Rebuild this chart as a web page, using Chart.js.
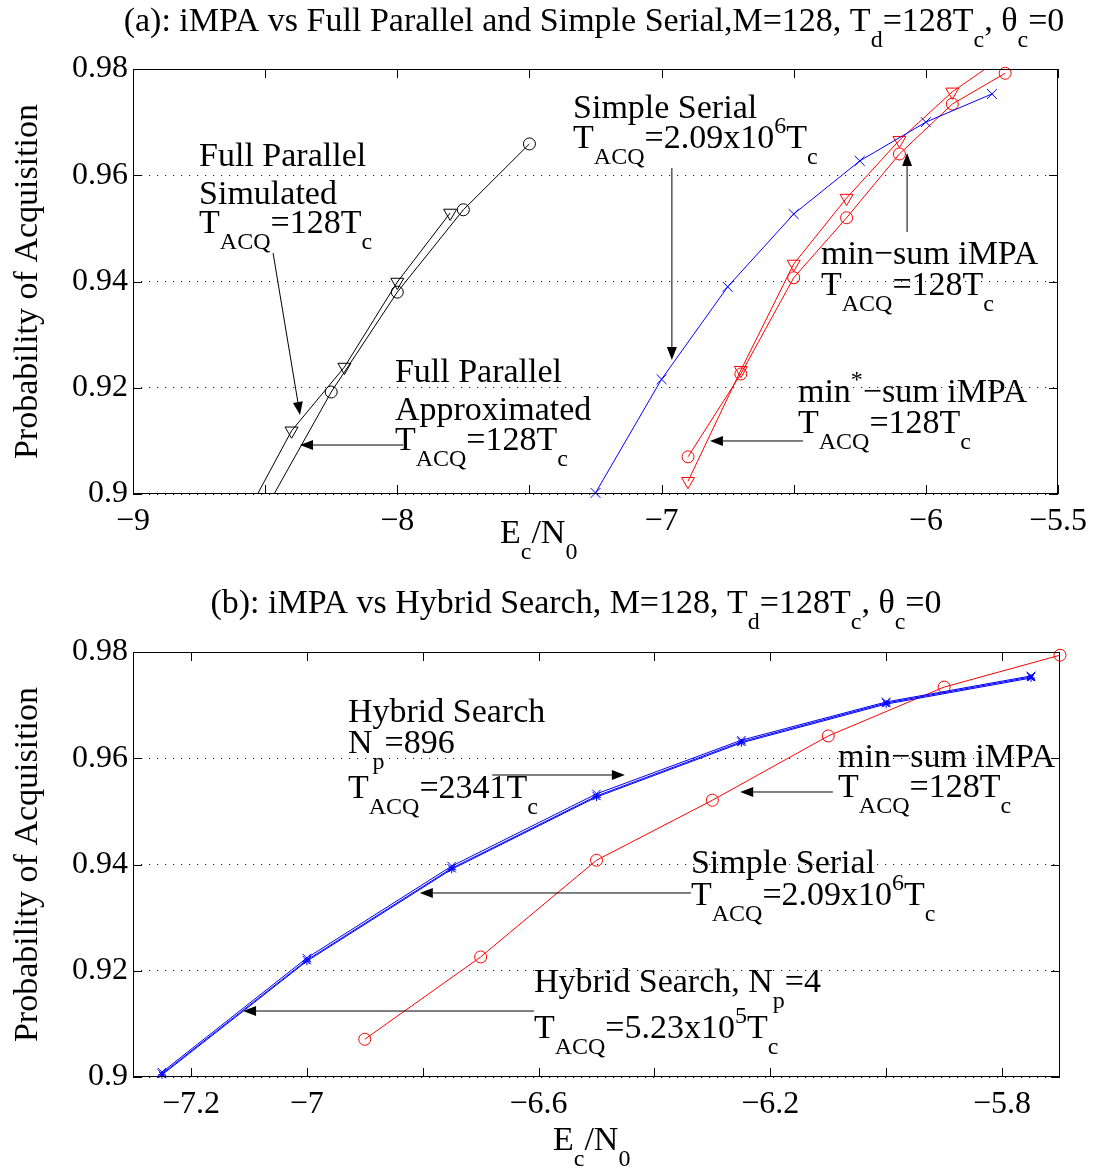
<!DOCTYPE html>
<html>
<head>
<meta charset="UTF-8">
<title>iMPA acquisition probability</title>
<script src="https://cdn.jsdelivr.net/npm/chart.js"></script>
<style>
  body { margin: 0; background: #fff; }
  canvas { display: block; }
</style>
</head>
<body>
<canvas id="chartA" width="1096" height="585"></canvas>
<canvas id="chartB" width="1096" height="586"></canvas>
<script>
// ---- (a) data ----
const fpApproxX = [-8.5, -8.25, -8.0, -7.75, -7.5];
const fpApproxY = [0.8970, 0.9192, 0.9380, 0.9535, 0.9659];
const fpSimX = [-8.6, -8.4, -8.2, -8.0, -7.8];
const fpSimY = [0.8934, 0.9119, 0.9239, 0.9399, 0.9529];
const serialX = [-7.25, -7.0, -6.75, -6.5, -6.25, -6.0, -5.75];
const serialY = [0.9002, 0.9216, 0.9390, 0.9527, 0.9627, 0.9700, 0.9753];
const minSumX = [-6.9, -6.7, -6.5, -6.3, -6.1, -5.9, -5.7];
const minSumY = [0.9070, 0.9226, 0.9407, 0.9520, 0.9640, 0.9734, 0.9792];
const minStarX = [-6.9, -6.7, -6.5, -6.3, -6.1, -5.9, -5.7];
const minStarY = [0.9024, 0.9233, 0.9433, 0.9557, 0.9666, 0.9757, 0.9826];

// ---- (b) data ----
const bSerialX = [-7.25, -7.0, -6.75, -6.5, -6.25, -6.0, -5.75];
const bSerialY = [0.9006, 0.9220, 0.9393, 0.9529, 0.9631, 0.9704, 0.9753];
const bHyb896Y = [0.9009, 0.9224, 0.9397, 0.9533, 0.9634, 0.9706, 0.9755];
const bHyb4Y = [0.9004, 0.9218, 0.9391, 0.9527, 0.9629, 0.9702, 0.9751];
const bMinSumX = [-6.9, -6.7, -6.5, -6.3, -6.1, -5.9, -5.7];
const bMinSumY = [0.9071, 0.9226, 0.9408, 0.9521, 0.9642, 0.9734, 0.9794];

// ---- ticks ----
const xTicksA = [-9, -8.5, -8, -7.5, -7, -6.5, -6, -5.5];
const xLabelsA = [-9, -8, -7, -6, -5.5];
const xTicksB = [-7.2, -7.0, -6.8, -6.6, -6.4, -6.2, -6.0, -5.8];
const xLabelsB = [-7.2, -7.0, -6.6, -6.2, -5.8];
const yTicks = [0.9, 0.92, 0.94, 0.96, 0.98];

// ---- annotations (data coordinates) ----
const notesA = [
  { x: -8.750, y: 0.96174, t: 'Full Parallel' },
  { x: -8.750, y: 0.95459, t: 'Simulated' },
  { x: -8.750, y: 0.94913, t: 'T_{ACQ}=128T_{c}' },
  { x: -8.009, y: 0.92108, t: 'Full Parallel' },
  { x: -8.009, y: 0.91393, t: 'Approximated' },
  { x: -8.009, y: 0.90828, t: 'T_{ACQ}=128T_{c}' },
  { x: -7.335, y: 0.97078, t: 'Simple Serial' },
  { x: -7.335, y: 0.96513, t: 'T_{ACQ}=2.09x10^{6}T_{c}' },
  { x: -6.397, y: 0.94329, t: 'min\u2212sum iMPA' },
  { x: -6.397, y: 0.93746, t: 'T_{ACQ}=128T_{c}' },
  { x: -6.484, y: 0.91732, t: 'min^{*}\u2212sum iMPA' },
  { x: -6.484, y: 0.91148, t: 'T_{ACQ}=128T_{c}' }
];
const arrowsA = [
  { from: [-8.470, 0.94536], to: [-8.368, 0.91487] },
  { from: [-7.978, 0.90922], to: [-8.368, 0.90922] },
  { from: [-6.961, 0.96136], to: [-6.961, 0.92522] },
  { from: [-6.071, 0.94932], to: [-6.071, 0.96419] },
  { from: [-6.465, 0.90998], to: [-6.817, 0.90998] }
];
const notesB = [
  { x: -6.929, y: 0.96682, t: 'Hybrid Search' },
  { x: -6.929, y: 0.96099, t: 'N_{p}=896' },
  { x: -6.929, y: 0.95252, t: 'T_{ACQ}=2341T_{c}' },
  { x: -6.083, y: 0.95835, t: 'min\u2212sum iMPA' },
  { x: -6.083, y: 0.95271, t: 'T_{ACQ}=128T_{c}' },
  { x: -6.337, y: 0.93840, t: 'Simple Serial' },
  { x: -6.337, y: 0.93238, t: 'T_{ACQ}=2.09x10^{6}T_{c}' },
  { x: -6.608, y: 0.91600, t: 'Hybrid Search, N_{p}=4' },
  { x: -6.608, y: 0.90734, t: 'T_{ACQ}=5.23x10^{5}T_{c}' }
];
const arrowsB = [
  { from: [-6.680, 0.95685], to: [-6.451, 0.95685] },
  { from: [-6.092, 0.95365], to: [-6.252, 0.95365] },
  { from: [-6.337, 0.93464], to: [-6.805, 0.93464] },
  { from: [-6.608, 0.91242], to: [-7.110, 0.91242] }
];

const FONT = '"Liberation Serif", "Times New Roman", serif';

function parseRich(s) {
  const out = [];
  const re = /([_^])\{([^}]*)\}/g;
  let last = 0, m;
  while ((m = re.exec(s))) {
    if (m.index > last) out.push({ t: s.slice(last, m.index), k: '' });
    out.push({ t: m[2], k: m[1] });
    last = re.lastIndex;
  }
  if (last < s.length) out.push({ t: s.slice(last), k: '' });
  return out;
}

function drawRich(ctx, s, x, y, size, align) {
  const segs = parseRich(s);
  const big = size + 'px ' + FONT;
  const small = Math.round(size * 0.72) + 'px ' + FONT;
  let w = 0;
  segs.forEach(g => {
    ctx.font = g.k ? small : big;
    g.w = ctx.measureText(g.t).width;
    w += g.w;
  });
  let cx = align === 'center' ? x - w / 2 : x;
  ctx.textAlign = 'left';
  ctx.textBaseline = 'alphabetic';
  segs.forEach(g => {
    ctx.font = g.k ? small : big;
    const dy = g.k === '_' ? size * 0.47 : g.k === '^' ? -size * 0.45 : 0;
    ctx.fillText(g.t, cx, y + dy);
    cx += g.w;
  });
}

function arrow(ctx, x1, y1, x2, y2) {
  const ang = Math.atan2(y2 - y1, x2 - x1), L = 13, H = 5;
  const bx = x2 - L * Math.cos(ang), by = y2 - L * Math.sin(ang);
  ctx.beginPath();
  ctx.moveTo(x1, y1);
  ctx.lineTo(bx, by);
  ctx.stroke();
  ctx.beginPath();
  ctx.moveTo(x2, y2);
  ctx.lineTo(bx + H * Math.sin(ang), by - H * Math.cos(ang));
  ctx.lineTo(bx - H * Math.sin(ang), by + H * Math.cos(ang));
  ctx.closePath();
  ctx.fill();
}

// box, inward ticks, titles and text notes
const decor = {
  id: 'decor',
  afterDraw(chart, args, o) {
    const { ctx, chartArea: a } = chart;
    const x = chart.scales.x, y = chart.scales.y;
    ctx.save();
    ctx.strokeStyle = '#000';
    ctx.fillStyle = '#000';
    ctx.lineWidth = 1;
    ctx.strokeRect(a.left + 0.5, a.top + 0.5, a.right - a.left - 1, a.bottom - a.top - 1);
    ctx.beginPath();
    x.ticks.forEach(t => {
      const px = Math.round(x.getPixelForValue(t.value)) + 0.5;
      ctx.moveTo(px, a.bottom); ctx.lineTo(px, a.bottom - 9);
      ctx.moveTo(px, a.top); ctx.lineTo(px, a.top + 9);
    });
    y.ticks.forEach(t => {
      const py = Math.round(y.getPixelForValue(t.value)) + 0.5;
      ctx.moveTo(a.left, py); ctx.lineTo(a.left + 9, py);
      ctx.moveTo(a.right, py); ctx.lineTo(a.right - 9, py);
    });
    ctx.stroke();

    o.notes.forEach(n => drawRich(ctx, n.t, x.getPixelForValue(n.x), y.getPixelForValue(n.y), 34, 'left'));
    o.arrows.forEach(r => arrow(ctx,
      x.getPixelForValue(r.from[0]), y.getPixelForValue(r.from[1]),
      x.getPixelForValue(r.to[0]), y.getPixelForValue(r.to[1])));

    drawRich(ctx, o.title, o.titleX, o.titleY, 34, 'center');
    drawRich(ctx, 'E_{c}/N_{0}', o.xTitleX, o.xTitleY, 34, 'left');

    ctx.translate(37, (a.top + a.bottom) / 2);
    ctx.rotate(-Math.PI / 2);
    ctx.font = '34px ' + FONT;
    ctx.textAlign = 'center';
    ctx.textBaseline = 'alphabetic';
    ctx.fillText('Probability of Acquisition', 0, 0);
    ctx.restore();
  }
};

function series(xs, ys, color, style, extra) {
  return Object.assign({
    data: xs.map((v, i) => ({ x: v, y: ys[i] })),
    borderColor: color,
    backgroundColor: 'rgba(0,0,0,0)',
    borderWidth: 1,
    pointStyle: style,
    pointRadius: 6,
    pointBorderColor: color,
    pointBackgroundColor: 'rgba(0,0,0,0)',
    pointBorderWidth: 1,
    tension: 0,
    clip: 10
  }, extra || {});
}

const fmt = v => (v < 0 ? '\u2212' + Math.abs(v) : String(v));

function makeOptions(xMin, xMax, xTicks, xLabels, padRight, xHeight, deco) {
  return {
    responsive: false,
    animation: false,
    events: [],
    layout: { padding: { top: deco.top, right: padRight, bottom: 0, left: 0 } },
    plugins: { legend: { display: false }, tooltip: { enabled: false }, decor: deco },
    scales: {
      x: {
        type: 'linear', min: xMin, max: xMax,
        afterBuildTicks: s => { s.ticks = xTicks.map(v => ({ value: v })); },
        afterFit: s => { s.height = xHeight; },
        grid: { display: false, drawTicks: false },
        border: { display: false },
        ticks: {
          autoSkip: false, maxRotation: 0, padding: 8, color: '#000',
          font: { family: FONT, size: 32 },
          callback: v => (xLabels.some(l => Math.abs(l - v) < 1e-9) ? fmt(v) : '')
        }
      },
      y: {
        min: 0.9, max: 0.98,
        afterBuildTicks: s => { s.ticks = yTicks.map(v => ({ value: v })); },
        afterFit: s => { s.width = 133; },
        grid: { color: '#222', lineWidth: 1, drawTicks: false },
        border: { display: false, dash: [1.2, 6.8] },
        ticks: {
          padding: 5, color: '#000',
          font: { family: FONT, size: 32 },
          callback: v => String(v)
        }
      }
    }
  };
}

new Chart(document.getElementById('chartA'), {
  type: 'line',
  data: {
    datasets: [
      series(fpApproxX, fpApproxY, '#000', 'circle', { clip: 0 }),
      series(fpSimX, fpSimY, '#000', 'triangle', { clip: 0, pointRadius: 7.5, pointRotation: 180 }),
      series(serialX, serialY, '#0000ff', 'crossRot', { pointRadius: 7 }),
      series(minSumX, minSumY, '#ff0000', 'circle'),
      series(minStarX, minStarY, '#ff0000', 'triangle', { clip: 0, pointRadius: 7.5, pointRotation: 180 })
    ]
  },
  options: makeOptions(-9, -5.5, xTicksA, xLabelsA, 38, 91, {
    top: 69,
    title: '(a): iMPA vs Full Parallel and Simple Serial,M=128, T_{d}=128T_{c}, \u03b8_{c}=0',
    titleX: 594, titleY: 31,
    xTitleX: 500, xTitleY: 543,
    notes: notesA, arrows: arrowsA
  }),
  plugins: [decor]
});

new Chart(document.getElementById('chartB'), {
  type: 'line',
  data: {
    datasets: [
      series(bSerialX, bHyb896Y, '#0000ff', 'crossRot', { pointRadius: 6 }),
      series(bSerialX, bSerialY, '#0000ff', 'crossRot', { pointRadius: 6 }),
      series(bSerialX, bHyb4Y, '#0000ff', 'star', { pointRadius: 4 }),
      series(bMinSumX, bMinSumY, '#ff0000', 'circle')
    ]
  },
  options: makeOptions(-7.3, -5.7, xTicksB, xLabelsB, 36, 94, {
    top: 67,
    title: '(b): iMPA vs Hybrid Search, M=128, T_{d}=128T_{c}, \u03b8_{c}=0',
    titleX: 576, titleY: 28,
    xTitleX: 553, xTitleY: 565,
    notes: notesB, arrows: arrowsB
  }),
  plugins: [decor]
});
</script>
</body>
</html>
